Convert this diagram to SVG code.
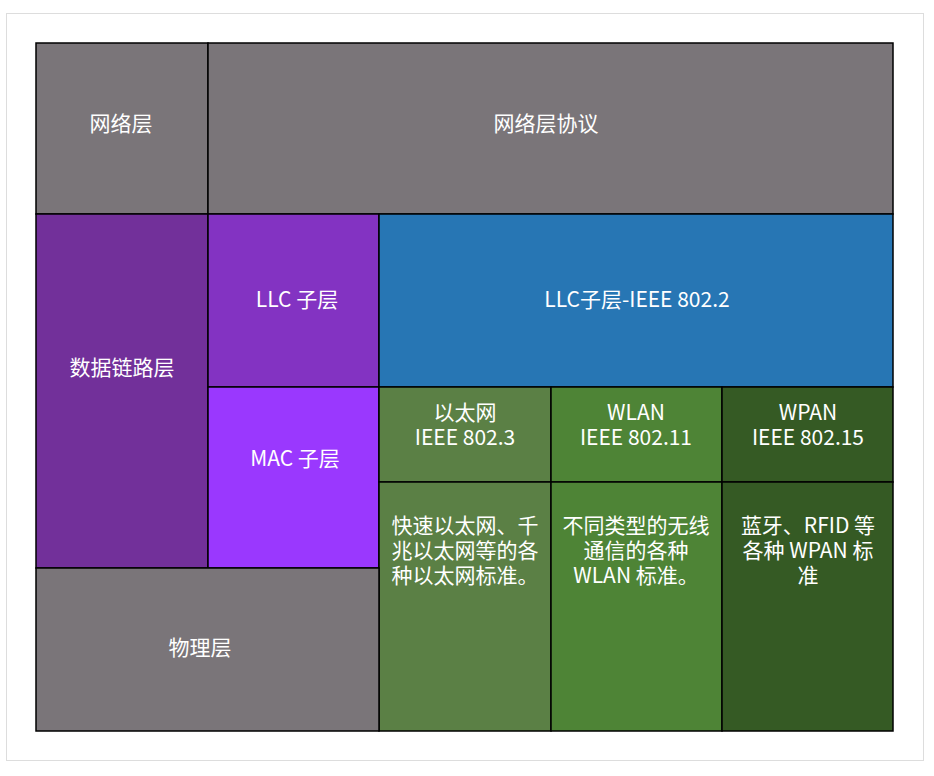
<svg xmlns="http://www.w3.org/2000/svg" width="934" height="776" viewBox="0 0 934 776">
<style>
.c{stroke:#000;stroke-width:1.5}
.g{fill:#7a7579}
text{font-family:"Noto Sans CJK SC","Noto Sans",sans-serif;font-size:21px;fill:#fff;text-anchor:middle;dominant-baseline:central}
</style>
<rect x="0" y="0" width="934" height="776" fill="#fff"/>
<rect x="6.5" y="13.5" width="917" height="747" fill="#fff" stroke="#ddd" stroke-width="1"/>
<g id="n1"><rect class="c g" x="36" y="43" width="172" height="171"/><text x="121" y="122">网络层</text></g>
<g id="n2"><rect class="c g" x="208" y="43" width="685" height="171"/><text x="546" y="122">网络层协议</text></g>
<g id="n3"><rect class="c" fill="#72309a" x="36" y="214" width="172" height="354"/><text x="122" y="366">数据链路层</text></g>
<g id="n4"><rect class="c" fill="#8333c2" x="208" y="214" width="171" height="173"/><text x="297" y="298">LLC 子层</text></g>
<g id="n5"><rect class="c" fill="#2776b4" x="379" y="214" width="514" height="173"/><text x="637" y="298">LLC子层-IEEE 802.2</text></g>
<g id="n6"><rect class="c" fill="#9a38fe" x="208" y="387" width="171" height="181"/><text x="295" y="457">MAC 子层</text></g>
<g id="n7"><rect class="c" fill="#5b8045" x="379" y="387" width="172" height="95"/><text x="465" y="411">以太网</text><text x="465" y="436">IEEE 802.3</text></g>
<g id="n8"><rect class="c" fill="#4e8436" x="551" y="387" width="171" height="95"/><text x="636" y="411">WLAN</text><text x="636" y="436">IEEE 802.11</text></g>
<g id="n9"><rect class="c" fill="#355a24" x="722" y="387" width="171" height="95"/><text x="808" y="411">WPAN</text><text x="808" y="436">IEEE 802.15</text></g>
<g id="n10"><rect class="c" fill="#5b8045" x="379" y="482" width="172" height="249"/><text x="465" y="524">快速以太网、千</text><text x="465" y="549">兆以太网等的各</text><text x="465" y="574">种以太网标准。</text></g>
<g id="n11"><rect class="c" fill="#4e8436" x="551" y="482" width="171" height="249"/><text x="636" y="524">不同类型的无线</text><text x="636" y="549">通信的各种</text><text x="636" y="574">WLAN 标准。</text></g>
<g id="n12"><rect class="c" fill="#355a24" x="722" y="482" width="171" height="249"/><text x="808" y="524">蓝牙、RFID 等</text><text x="808" y="549">各种 WPAN 标</text><text x="808" y="574">准</text></g>
<g id="n13"><rect class="c g" x="36" y="568" width="343" height="163"/><text x="200" y="646">物理层</text></g>
<g id="connectors"></g>
</svg>
